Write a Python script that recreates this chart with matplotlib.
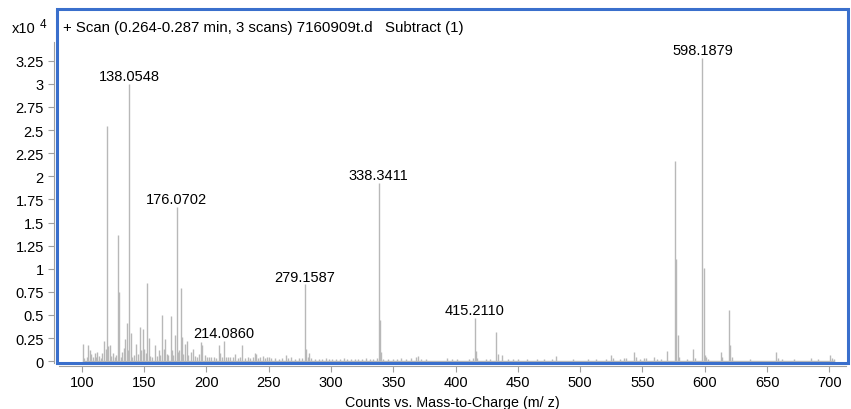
import numpy as np
import matplotlib
matplotlib.use("Agg")
import matplotlib.pyplot as plt
from matplotlib.patches import Rectangle

plt.rcParams['font.family'] = ['Liberation Sans', 'DejaVu Sans']

# peak list: m/z and counts (x10^4)
mz = [100.5, 102, 104, 105.2, 106.3, 107.5, 109, 110.2, 111.5, 112.5, 114, 115, 116.5,
      118.1, 119.1, 120.1, 121.1, 122.4, 123.5, 125, 126.5, 127.5, 129.1, 129.6, 131,
      132.3, 133.5, 134.8, 136.2, 137, 138.05, 139.1, 140.5, 142, 143.8, 145, 146.5,
      147.5, 148.8, 150.1, 151.3, 152.4, 153.5, 155, 156.5, 158.5, 160, 161.5, 163,
      164.5, 165.5, 166.8, 168, 169.5, 171.2, 172.2, 173.5, 174.8, 176.07, 177.2, 178.2,
      179.4, 180.4, 181.5, 182.8, 184.2, 185.5, 187.2, 189.5, 191, 192.5, 194, 195.6,
      196.8, 198.5, 200.5, 202, 204, 206, 208, 209.8, 211, 212.5, 214.09, 215.5, 217,
      219, 221, 223, 225, 227, 228.8, 231, 233, 235, 237, 238.6, 239.5, 241, 243, 245,
      247, 248.6, 250, 252, 255, 258, 261, 263.5, 265.5, 268, 271, 274, 276.5, 279.16,
      280.1, 281.5, 282.5, 284, 287, 290, 293, 296, 298, 301, 304, 307, 310, 313, 316,
      319, 322, 325, 328, 331, 334, 336.5, 338.34, 339.3, 340.3, 342, 346, 350, 353,
      356, 360, 364, 368.5, 369.6, 372, 376, 393, 397, 401, 411, 414, 415.21, 416.2,
      417.5, 424, 428, 432.8, 434, 437.5, 442, 446, 450, 457, 465, 471, 477, 480.5,
      494, 506, 513, 521, 524.5, 526, 532, 535, 537, 543.5, 545, 548, 551, 553, 559,
      562, 565, 569.7, 575.8, 577, 578.2, 579.5, 586, 590.5, 592, 598.19, 599.3, 600.3,
      601.2, 603, 612.8, 614, 619.6, 620.6, 621.8, 636, 657.6, 659, 662, 672, 685, 691,
      700.5, 702, 704]
counts = [0.19, 0.03, 0.05, 0.17, 0.12, 0.08, 0.05, 0.09, 0.04, 0.10, 0.06, 0.03, 0.09,
          0.22, 0.13, 2.54, 0.16, 0.17, 0.06, 0.09, 0.05, 0.07, 1.36, 0.75, 0.05,
          0.10, 0.14, 0.24, 0.41, 0.12, 3.00, 0.30, 0.05, 0.07, 0.19, 0.08, 0.37,
          0.12, 0.35, 0.13, 0.09, 0.85, 0.25, 0.06, 0.05, 0.17, 0.06, 0.12, 0.07,
          0.50, 0.13, 0.24, 0.08, 0.07, 0.49, 0.12, 0.07, 0.28, 1.67, 0.10, 0.12,
          0.79, 0.26, 0.08, 0.19, 0.22, 0.07, 0.10, 0.13, 0.06, 0.05, 0.08, 0.21,
          0.18, 0.07, 0.04, 0.05, 0.04, 0.05, 0.03, 0.18, 0.09, 0.04, 0.22, 0.05, 0.04,
          0.05, 0.04, 0.08, 0.03, 0.04, 0.18, 0.03, 0.04, 0.03, 0.04, 0.09, 0.08, 0.03, 0.04, 0.06,
          0.03, 0.05, 0.05, 0.03, 0.03, 0.02, 0.03, 0.07, 0.03, 0.04, 0.02, 0.03, 0.03, 0.83,
          0.13, 0.05, 0.09, 0.03, 0.02, 0.02, 0.02, 0.03, 0.02, 0.02, 0.02, 0.02, 0.03, 0.02, 0.02,
          0.02, 0.02, 0.02, 0.03, 0.02, 0.02, 0.03, 1.93, 0.45, 0.10, 0.02, 0.02, 0.02, 0.02,
          0.03, 0.02, 0.03, 0.05, 0.06, 0.02, 0.02, 0.03, 0.02, 0.02, 0.02, 0.03, 0.47, 0.11,
          0.03, 0.02, 0.02, 0.31, 0.08, 0.07, 0.02, 0.02, 0.02, 0.02, 0.02, 0.02, 0.02, 0.06,
          0.02, 0.02, 0.02, 0.02, 0.07, 0.03, 0.02, 0.03, 0.03, 0.10, 0.05, 0.02, 0.03, 0.03, 0.04,
          0.02, 0.02, 0.11, 2.17, 1.10, 0.28, 0.05, 0.02, 0.13, 0.03, 3.28, 1.01, 0.07,
          0.05, 0.02, 0.10, 0.04, 0.55, 0.18, 0.04, 0.02, 0.10, 0.03, 0.02, 0.02, 0.03, 0.02,
          0.07, 0.03, 0.02]

# annotated peaks
label_mz = [138.05, 176.07, 214.09, 279.16, 338.34, 415.21, 598.19]
label_counts = [3.00, 1.67, 0.22, 0.83, 1.93, 0.47, 3.28]
label_text = ["138.0548", "176.0702", "214.0860", "279.1587", "338.3411", "415.2110", "598.1879"]

y_ticks = [0, 0.25, 0.5, 0.75, 1, 1.25, 1.5, 1.75, 2, 2.25, 2.5, 2.75, 3, 3.25]
y_labels = ["0", "0.25", "0.5", "0.75", "1", "1.25", "1.5", "1.75", "2", "2.25", "2.5", "2.75", "3", "3.25"]
x_ticks = list(range(100, 701, 50))

W, H = 851, 410
fig = plt.figure(figsize=(W / 100, H / 100), dpi=100)
ax = fig.add_axes([57 / W, 1 - 364 / H, (848 - 57) / W, (364 - 10) / H])

blue = '#3a6fcc'
peak_col = '#b8b8b8'
axis_col = '#a0a0a0'

ax.vlines(mz, 0, counts, color=peak_col, lw=1)
ax.plot([min(mz), max(mz)], [0, 0], color=peak_col, lw=1)

for x, y, t in zip(label_mz, label_counts, label_text):
    ax.annotate(t, (x, y), xytext=(0, 0.5), textcoords='offset points',
                ha='center', va='bottom', fontsize=10.5)

ax.set_xlim(80, 715)
ax.set_ylim(-0.02, 3.81)

ax.set_yticks(y_ticks, y_labels)
ax.set_xticks(x_ticks)
ax.tick_params(axis='both', direction='out', length=4, width=0.8, color=axis_col,
               labelsize=10.5, pad=3)

for s in ['top', 'right']:
    ax.spines[s].set_visible(False)
ax.spines['left'].set_position(('outward', 2.5))
ax.spines['bottom'].set_position(('outward', 1.8))
ax.spines['left'].set_color(axis_col)
ax.spines['bottom'].set_color(axis_col)
ax.spines['left'].set_linewidth(0.8)
ax.spines['bottom'].set_linewidth(0.8)
ax.spines['left'].set_bounds(-0.02, 3.45)
ax.spines['bottom'].set_bounds(82, 713)

ax.add_patch(Rectangle((0, 0), 1, 1, transform=ax.transAxes, fill=False,
                       edgecolor=blue, lw=2.2, clip_on=False, zorder=5))

ax.text(0.008, 0.95, "+ Scan (0.264-0.287 min, 3 scans) 7160909t.d   Subtract (1)",
        transform=ax.transAxes, ha='left', va='center', fontsize=10.8)
fig.text(12 / W, 1 - 29 / H, "x10", ha='left', va='center', fontsize=10.5)
fig.text(40 / W, 1 - 25 / H, "4", ha='left', va='center', fontsize=8.5)

ax.set_xlabel("Counts vs. Mass-to-Charge (m/ z)", fontsize=10.3, labelpad=4)

fig.savefig("out.png", dpi=100)
